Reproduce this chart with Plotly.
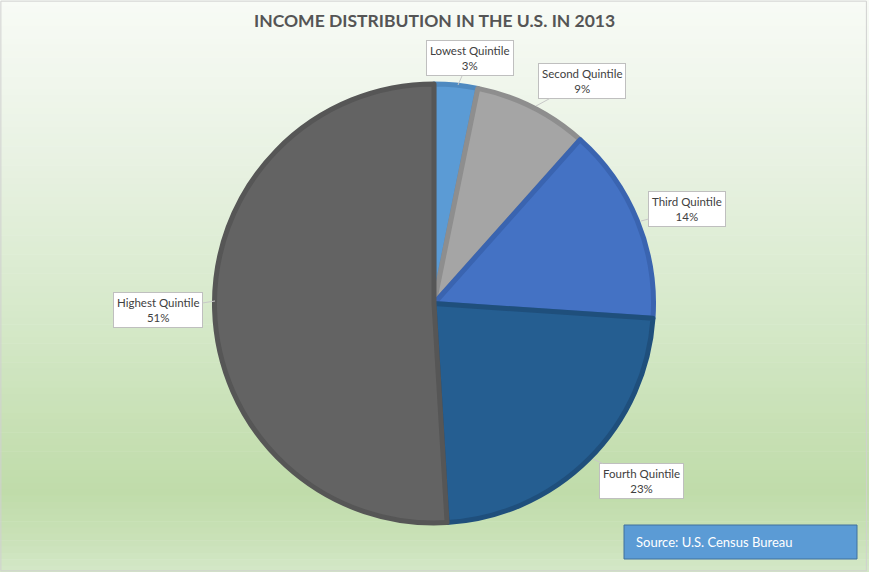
import plotly.graph_objects as go

"""
Income distribution in the U.S. in 2013 - pie chart with callout labels
"""

# Data
quintiles = ["Lowest Quintile", "Second Quintile", "Third Quintile", "Fourth Quintile", "Highest Quintile"]
shares = [3.2, 8.4, 14.5, 23.0, 51.0]
share_labels = ["3%", "9%", "14%", "23%", "51%"]

fill_colors = ["#5B9BD5", "#A5A5A5", "#4472C4", "#255E91", "#636363"]
edge_colors = ["#4E89C0", "#8E8E8E", "#3A64B0", "#1F4F7C", "#565656"]

W, H = 869, 572


def px_x(x):
    return x / W


def px_y(y):
    return 1 - y / H


def hex_rgb(h):
    h = h.lstrip("#")
    return [int(h[i:i + 2], 16) for i in (0, 2, 4)]


def background_shapes():
    # vertical gradient, white at top to green near the bottom
    stops = [(0.0, "#F8FBF6"), (0.3, "#E7F1E1"), (0.55, "#D6E9CA"), (0.75, "#C7E0B4"),
             (0.86, "#C0DCAA"), (0.94, "#C9E1B7"), (1.0, "#D4E8C7")]
    n = 90
    shapes = []
    for i in range(n):
        t = (i + 0.5) / n
        for (t0, c0), (t1, c1) in zip(stops[:-1], stops[1:]):
            if t0 <= t <= t1:
                f = (t - t0) / (t1 - t0)
                a, b = hex_rgb(c0), hex_rgb(c1)
                rgb = [round(a[k] + (b[k] - a[k]) * f) for k in range(3)]
                break
        shapes.append(dict(type="rect", xref="paper", yref="paper", x0=0, x1=1,
                           y0=1 - (i + 1) / n - 0.001, y1=1 - i / n,
                           fillcolor="rgb(%d,%d,%d)" % tuple(rgb), line=dict(width=0), layer="below"))
    return shapes


fig = go.Figure()

fig.add_trace(go.Pie(
    labels=quintiles,
    values=shares,
    sort=False,
    direction="clockwise",
    rotation=0,
    textinfo="none",
    hoverinfo="label+percent",
    showlegend=False,
    marker=dict(colors=fill_colors, line=dict(color=edge_colors, width=5)),
    domain=dict(x=[px_x(214), px_x(654)], y=[px_y(523), px_y(84)]),
))

# callout labels: (arrow tip px, box center px)
callouts = [
    ((458, 85), (470, 58)),
    ((536, 106), (582, 81)),
    ((641, 221), (687, 209)),
    ((593, 459), (641, 481)),
    ((215, 301), (158, 310)),
]

annotations = []
for name, lab, (tip, box) in zip(quintiles, share_labels, callouts):
    annotations.append(dict(
        x=px_x(tip[0]), y=px_y(tip[1]), xref="paper", yref="paper",
        ax=box[0] - tip[0], ay=box[1] - tip[1],
        text=name + "<br>" + lab, showarrow=True, arrowhead=0, arrowwidth=1, arrowcolor="#C8C8C8",
        font=dict(family="Lato", size=11.5, color="#404040"),
        bgcolor="white", bordercolor="#BFBFBF", borderwidth=1, borderpad=3, align="center",
    ))

# title
annotations.append(dict(
    x=px_x(434), y=px_y(21), xref="paper", yref="paper", showarrow=False,
    text="<b>INCOME DISTRIBUTION IN THE U.S. IN 2013</b>",
    font=dict(family="Lato", size=17.5, color="#555555"), xanchor="center", yanchor="middle",
))

# source note
annotations.append(dict(
    x=px_x(634), y=px_y(542), xref="paper", yref="paper", showarrow=False,
    text="Source: U.S. Census Bureau",
    font=dict(family="Lato", size=13, color="white"), xanchor="left", yanchor="middle",
))

shapes = background_shapes()
shapes.append(dict(type="rect", xref="paper", yref="paper",
                   x0=px_x(624), x1=px_x(857), y0=px_y(559), y1=px_y(525),
                   fillcolor="#5B9BD5", line=dict(color="#41719C", width=1), layer="below"))
shapes.append(dict(type="rect", xref="paper", yref="paper", x0=0.001, x1=0.997, y0=0.002, y1=0.998,
                   line=dict(color="#D0D0D0", width=1), fillcolor="rgba(0,0,0,0)", layer="above"))

fig.update_layout(
    width=W, height=H,
    margin=dict(l=0, r=0, t=0, b=0),
    paper_bgcolor="white",
    plot_bgcolor="white",
    shapes=shapes,
    annotations=annotations,
)

# drop the default page margin so the figure fills the window
fig.write_html("out.html", config={"displayModeBar": False},
               post_script="document.body.style.margin='0px';")
